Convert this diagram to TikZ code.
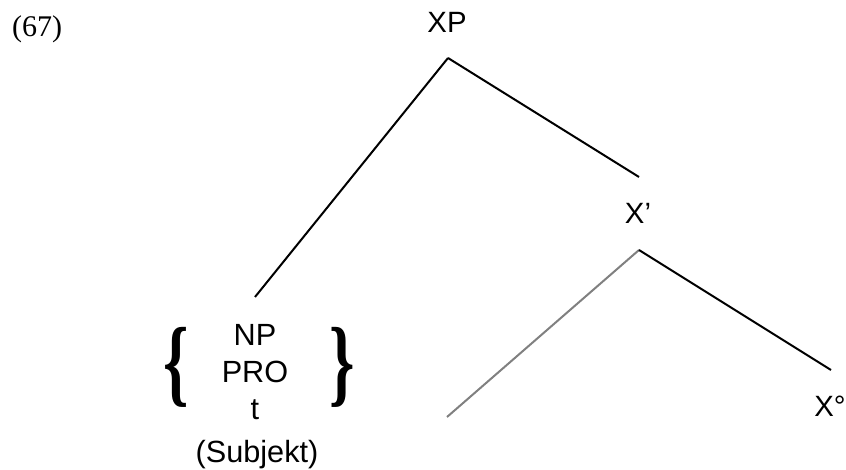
\documentclass[tikz,border=0pt]{standalone}
\usepackage{fontspec}
\setmainfont{Liberation Sans}
\newfontfamily\numfont{Liberation Serif}
\usepackage{graphicx}

\begin{document}
\begin{tikzpicture}[x=0.75pt, y=-0.75pt, line width=1.5pt,
    every node/.style={font=\fontsize{22}{25.5}\selectfont, inner sep=0pt}]
  \useasboundingbox (0,0) rectangle (846,470);
  \node[font=\numfont\fontsize{22.5}{25.5}\selectfont] (ex) at (37,29) {(67)};
  % top node
  \node (xp) at (447,22) {XP};
  \coordinate (xp-top) at (448,58);
  \coordinate (subj-end) at (255,297);
  \coordinate (xbar-end) at (639,177);
  \draw (xp-top) -- (subj-end);
  \draw (xp-top) -- (xbar-end);
  % X-bar level
  \node (xbar) at (638,213) {X’};
  \coordinate (xbar-top) at (639,250);
  \coordinate (spec-end) at (447,417);
  \coordinate (xzero-end) at (831,370);
  \draw[gray] (xbar-top) -- (spec-end);
  \draw (xbar-top) -- (xzero-end);
  \node (xzero) at (830,406) {X°};
  % subject choices
  \node[align=center, font=\fontsize{23}{27.5}\selectfont] (subj) at (255,372) {NP\\PRO\\t};
  \node (lbrace) at (176,367) {\scalebox{2.2}[3.3]{\numfont\bfseries\{}};
  \node (rbrace) at (342,367) {\scalebox{2.2}[3.3]{\numfont\bfseries\}}};
  \node[font=\fontsize{23}{27.5}\selectfont] (subj-lbl) at (257,455) {(Subjekt)};
\end{tikzpicture}
\end{document}
